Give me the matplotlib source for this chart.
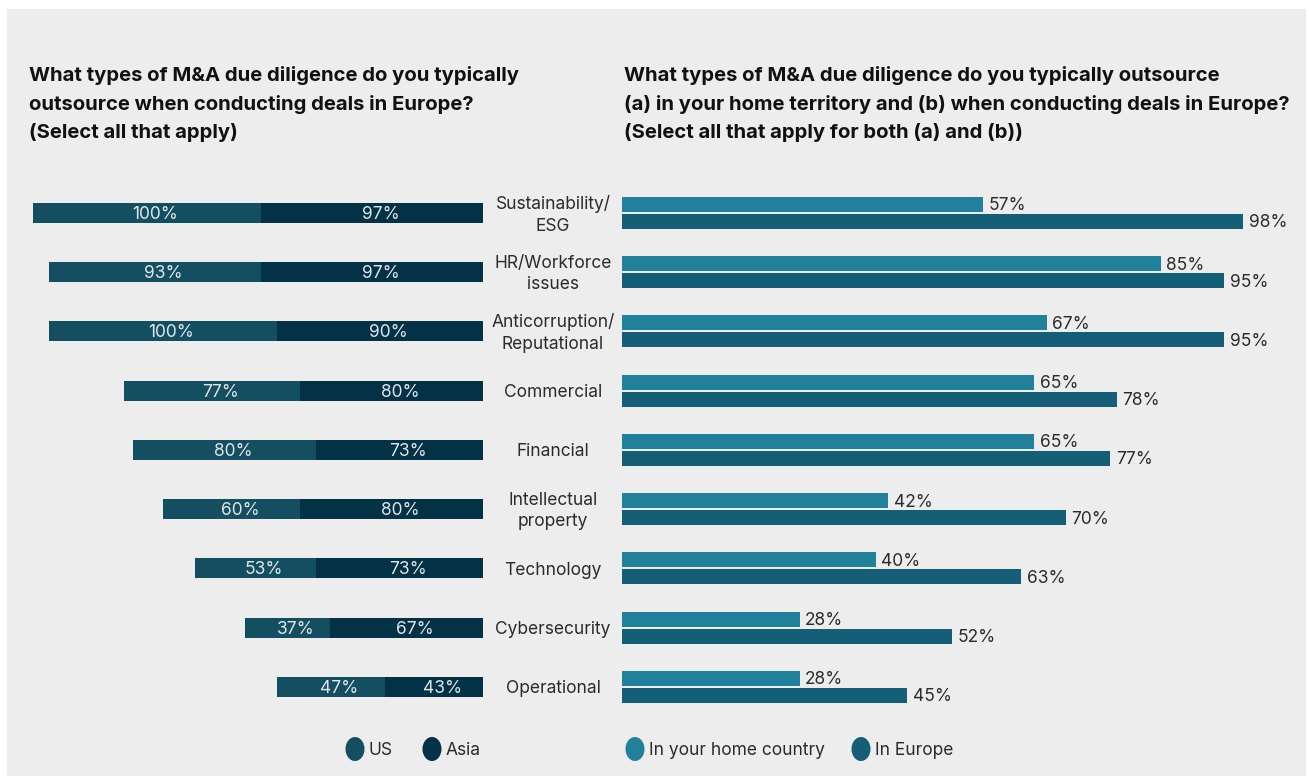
import matplotlib.pyplot as plt
import matplotlib.transforms as mtransforms
from matplotlib.patches import Rectangle, Ellipse

plt.rcParams['font.family'] = ['Inter', 'DejaVu Sans']

categories = ["Sustainability/\nESG", "HR/Workforce\nissues", "Anticorruption/\nReputational",
              "Commercial", "Financial", "Intellectual\nproperty", "Technology",
              "Cybersecurity", "Operational"]
us = [100, 93, 100, 77, 80, 60, 53, 37, 47]
asia = [97, 97, 90, 80, 73, 80, 73, 67, 43]
home = [57, 85, 67, 65, 65, 42, 40, 28, 28]
europe = [98, 95, 95, 78, 77, 70, 63, 52, 45]

c_us = '#134f60'
c_asia = '#033146'
c_home = '#21819b'
c_eu = '#145f75'
c_bg = '#ededed'
c_txt = '#2b2b2b'

W, H = 1309, 776
fig = plt.figure(figsize=(W / 100, H / 100), dpi=100, facecolor='white')
fig.patches.append(Rectangle((7 / W, 0), 1299 / W, 767 / H, transform=fig.transFigure,
                             facecolor=c_bg, edgecolor='none', zorder=-10))

# both panels share the same row layout
bottom = 1 - 716.6 / H
height = 533.25 / H
ax_l = fig.add_axes([20 / W, bottom, 463 / W, height])
ax_r = fig.add_axes([622 / W, bottom, 678 / W, height])
for ax in (ax_l, ax_r):
    ax.set_facecolor('none')
    ax.axis('off')
    ax.set_ylim(8.5, -0.5)

ypos = list(range(len(categories)))

# left: stacked bars growing leftwards from the centre
ax_l.set_xlim(463 / 2.285, 0)
ax_l.barh(ypos, asia, height=0.3375, color=c_asia)
ax_l.barh(ypos, us, left=asia, height=0.3375, color=c_us)
for i in ypos:
    ax_l.annotate(f"{asia[i]}%", (asia[i] / 2, i), xytext=(6, -1), textcoords='offset points',
                  ha='center', va='center', fontsize=12.5, color='#dfe6e9')
    ax_l.annotate(f"{us[i]}%", (asia[i] + us[i] / 2, i), xytext=(6, -1), textcoords='offset points',
                  ha='center', va='center', fontsize=12.5, color='#dfe6e9')

# right: grouped bars
off = 8.5 / 59.25
bh = 15 / 59.25
ax_r.set_xlim(0, 678 / 6.34)
ax_r.barh([y - off for y in ypos], home, height=bh, color=c_home)
ax_r.barh([y + off for y in ypos], europe, height=bh, color=c_eu)
for i in ypos:
    ax_r.annotate(f"{home[i]}%", (home[i], i - off), xytext=(4, -1), textcoords='offset points',
                  ha='left', va='center', fontsize=12.5, color=c_txt)
    ax_r.annotate(f"{europe[i]}%", (europe[i], i + off), xytext=(4, -1), textcoords='offset points',
                  ha='left', va='center', fontsize=12.5, color=c_txt)

# category names between the panels
tr = mtransforms.blended_transform_factory(fig.transFigure, ax_r.transData)
for i, cat in enumerate(categories):
    fig.text(553 / W, i + 0.03, cat, transform=tr, ha='center', va='center',
             fontsize=12.5, color=c_txt, linespacing=1.35)

# titles
fig.text(29 / W, 1 - 104 / H,
         "What types of M&A due diligence do you typically\n"
         "outsource when conducting deals in Europe?\n"
         "(Select all that apply)",
         ha='left', va='center', fontsize=14.6, fontweight='bold', color='#111111', linespacing=1.65)
fig.text(624 / W, 1 - 104 / H,
         "What types of M&A due diligence do you typically outsource\n"
         "(a) in your home territory and (b) when conducting deals in Europe?\n"
         "(Select all that apply for both (a) and (b))",
         ha='left', va='center', fontsize=14.6, fontweight='bold', color='#111111', linespacing=1.65)

# legends
legend_items = [(355, c_us, "US"), (432, c_asia, "Asia"),
                (635, c_home, "In your home country"), (861, c_eu, "In Europe")]
ly = 1 - 749 / H
for x, col, lab in legend_items:
    fig.patches.append(Ellipse((x / W, ly), 19 / W, 24 / H, transform=fig.transFigure,
                               facecolor=col, edgecolor='none'))
    fig.text((x + 14) / W, ly - 1.5 / H, lab, ha='left', va='center', fontsize=12.5, color=c_txt)

fig.savefig('out.png', dpi=100, facecolor='white')
